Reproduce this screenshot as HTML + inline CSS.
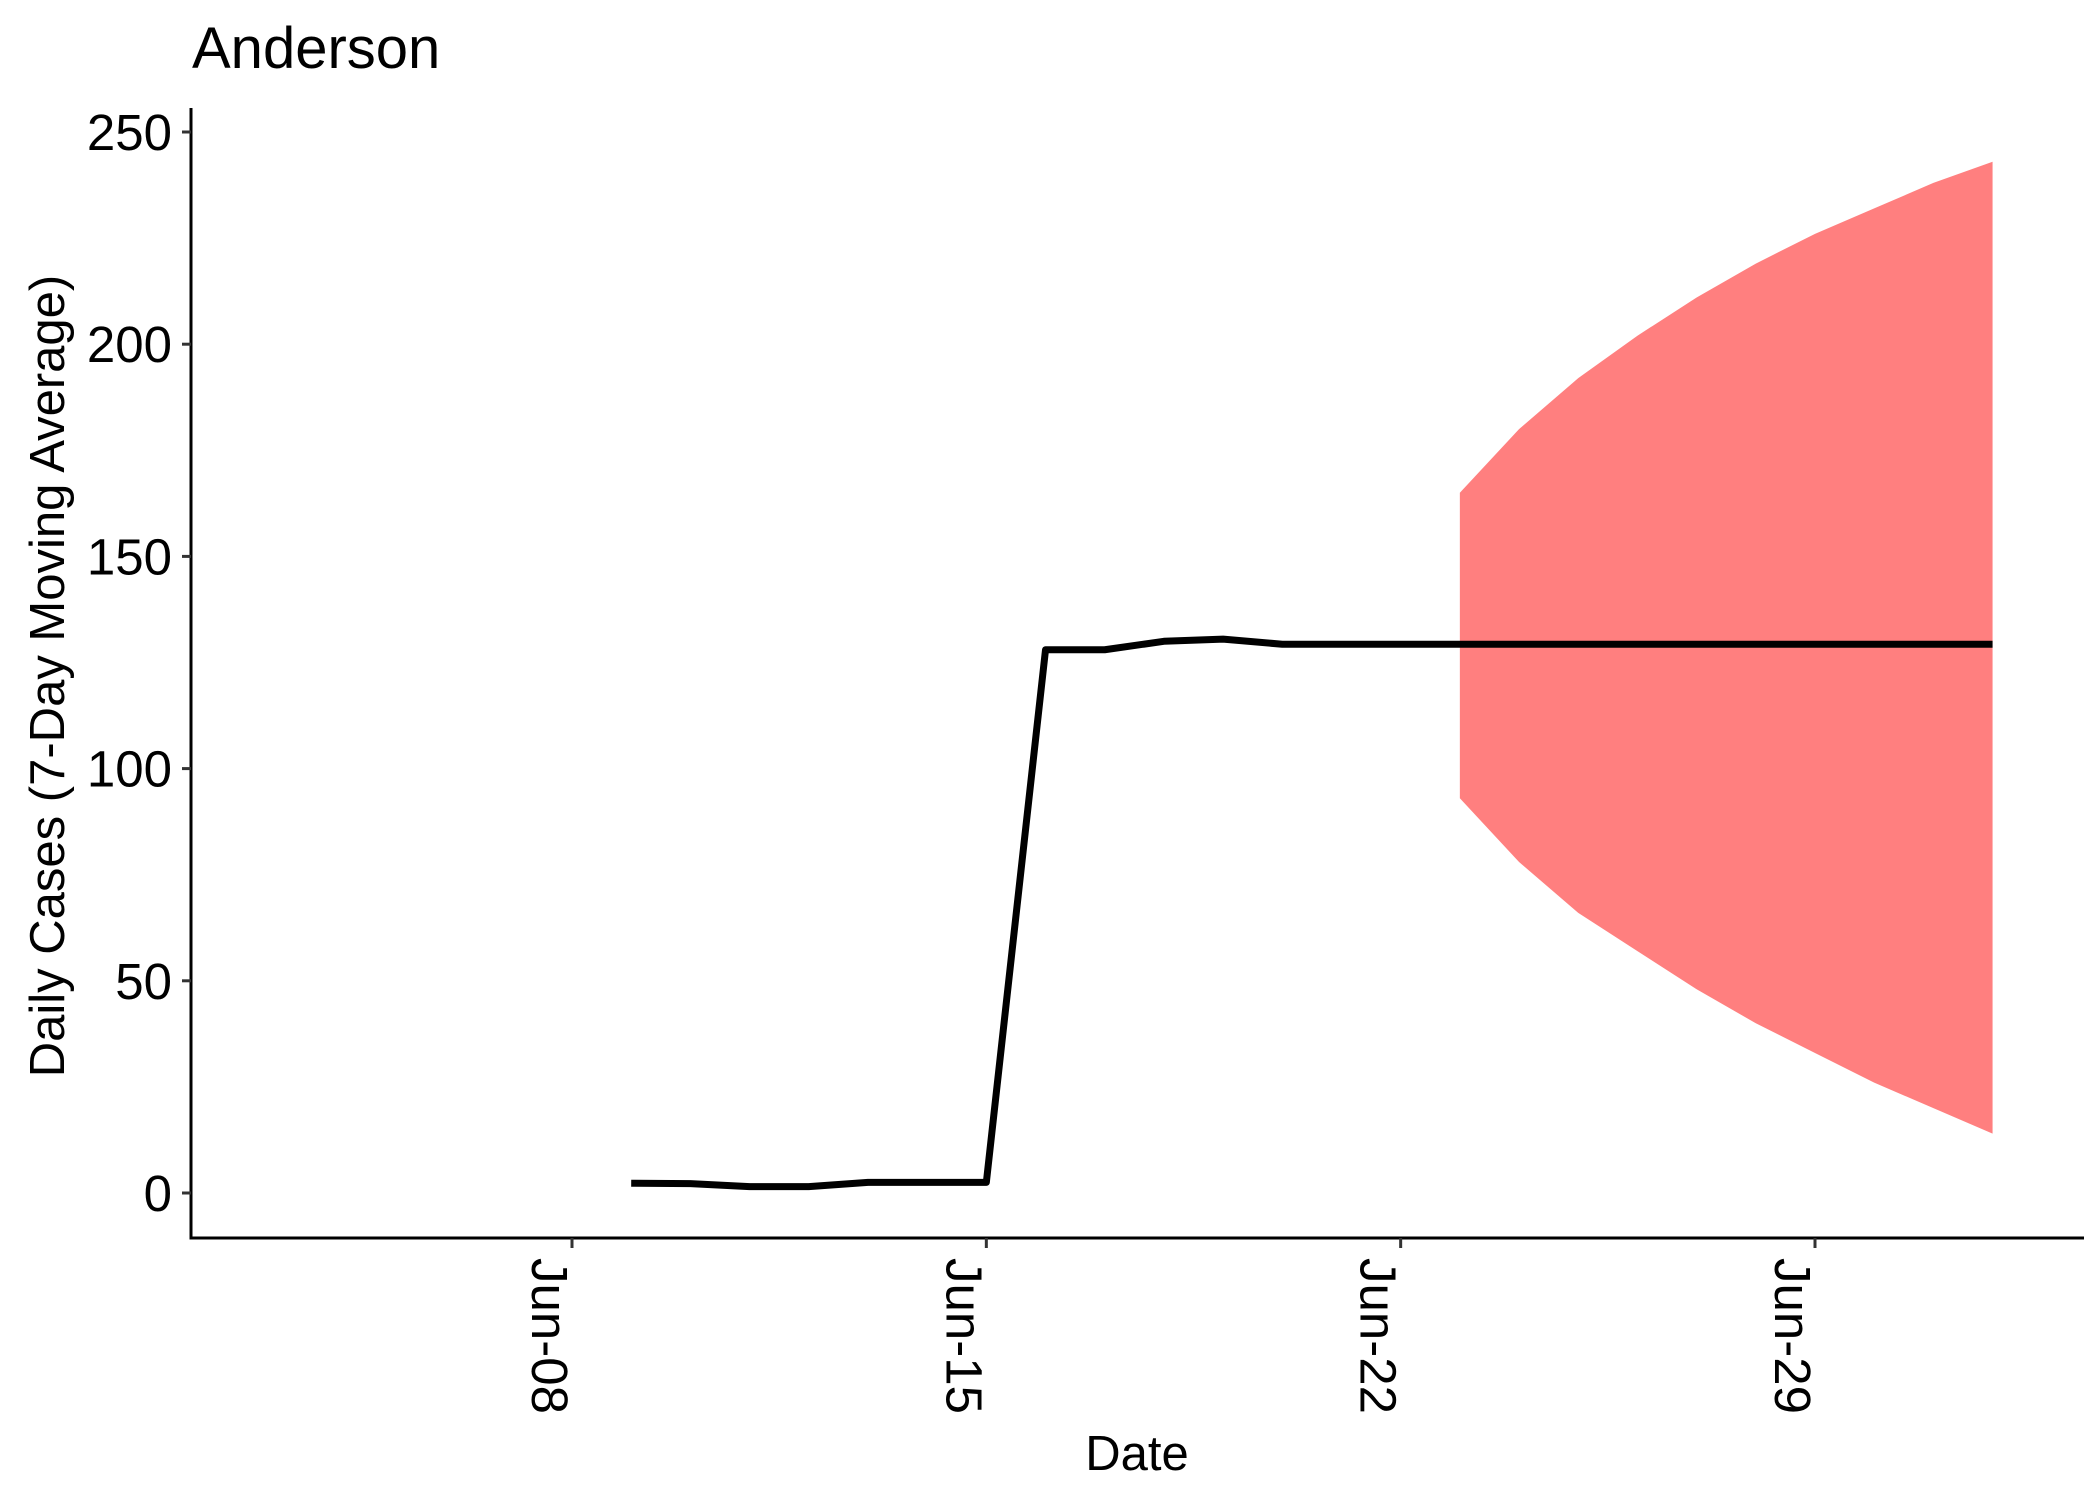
<!DOCTYPE html>
<html><head><meta charset="utf-8"><style>
html,body{margin:0;padding:0;background:#fff}
svg{display:block;font-family:"Liberation Sans",Arial,sans-serif}
</style></head><body>
<svg id="chart" width="2100" height="1499" viewBox="0 0 2100 1499">
<text x="192" y="68" font-size="58">Anderson</text>
<g id="ribbon-layer"></g>
<g id="line-layer"></g>
<g id="axes"></g>
<text transform="translate(64,676) rotate(-90)" text-anchor="middle" font-size="49">Daily Cases (7-Day Moving Average)</text>
<text x="1137" y="1470" text-anchor="middle" font-size="49">Date</text>
</svg>
<script>
const lineDays = [9,10,11,12,13,14,15,16,17,18,19,20,21,22,23,24,25,26,27,28,29,30,31,32];
const lineValues = [2.3,2.2,1.5,1.5,2.5,2.5,2.5,128,128,130,130.5,129.3,129.3,129.3,129.3,129.3,129.3,129.3,129.3,129.3,129.3,129.3,129.3,129.3];
const bandDays = [23,24,25,26,27,28,29,30,31,32];
const bandUpper = [165,180,192,202,211,219,226,232,238,243];
const bandLower = [93,78,66,57,48,40,33,26,20,14];
const yTicks = [0,50,100,150,200,250];
const xTickDays = [8,15,22,29];
const xTickLabels = ["Jun-08","Jun-15","Jun-22","Jun-29"];

const NS="http://www.w3.org/2000/svg";
const X0=191, X1=2084, Y0=108, Y1=1238;
function xs(d){return 572+(d-8)*(1815-572)/21;}
function ys(v){return 1193-v*(1193-132)/250;}
function mk(t,a,p){const e=document.createElementNS(NS,t);for(const k in a)e.setAttribute(k,a[k]);p.appendChild(e);return e;}

const rib=document.getElementById('ribbon-layer');
let pts=bandDays.map((d,i)=>xs(d)+','+ys(bandUpper[i]));
for(let i=bandDays.length-1;i>=0;i--)pts.push(xs(bandDays[i])+','+ys(bandLower[i]));
const band=mk('polygon',{points:pts.join(' '),fill:'#ff7f7f'},rib);



const ll=document.getElementById('line-layer');
const line=mk('polyline',{points:lineDays.map((d,i)=>xs(d)+','+ys(lineValues[i])).join(' '),fill:'none',stroke:'#000','stroke-width':7,'stroke-linejoin':'round'},ll);



const ax=document.getElementById('axes');
const ya=mk('line',{x1:X0,y1:Y0,x2:X0,y2:Y1+1.5,stroke:'#000','stroke-width':3},ax);


const xa=mk('line',{x1:X0-1.5,y1:Y1,x2:X1,y2:Y1,stroke:'#000','stroke-width':3},ax);


yTicks.forEach(v=>{
  const y=ys(v);
  const t=mk('line',{x1:X0-9,y1:y,x2:X0,y2:y,stroke:'#333','stroke-width':3},ax);
  
  
  const l=mk('text',{x:X0-19,y:y+18,'text-anchor':'end','font-size':51},ax);
  l.textContent=v;
  
  
});
xTickDays.forEach((d,i)=>{
  const x=xs(d);
  const t=mk('line',{x1:x,y1:Y1,x2:x,y2:Y1+10,stroke:'#333','stroke-width':3},ax);
  
  
  const l=mk('text',{transform:`translate(${x-40},${Y1+20}) rotate(90)`,'font-size':51},ax);
  l.textContent=xTickLabels[i];
  
  
});
</script>
</body></html>
